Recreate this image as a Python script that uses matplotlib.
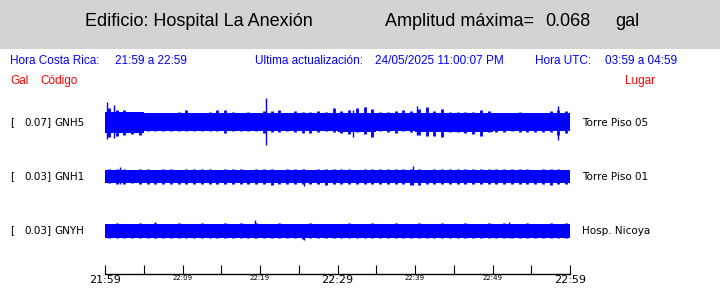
import numpy as np
import matplotlib
matplotlib.use("Agg")
import matplotlib.pyplot as plt
from matplotlib.patches import Rectangle

# header texts
edificio = "Edificio: Hospital La Anexión"
amp_max = "0.068"
hora_cr = "21:59 a 22:59"
actualizacion = "24/05/2025 11:00:07 PM"
hora_utc = "03:59 a 04:59"

# stations (top to bottom)
codigos = ["GNH5", "GNH1", "GNYH"]
escalas = ["0.07", "0.03", "0.03"]
lugares = ["Torre Piso 05", "Torre Piso 01", "Hosp. Nicoya"]

# time axis, minutes after 21:59
tick_min = np.arange(0, 61, 5)
label_min = [0, 10, 20, 30, 40, 50, 60]
label_txt = ["21:59", "22:09", "22:19", "22:29", "22:39", "22:49", "22:59"]
label_big = [True, False, False, True, False, False, True]

# dense part of each trace, half-height per 5-minute block
gnh5_core = [10.5, 9, 9, 9, 9, 9, 9.5, 9, 9.5, 9.5, 9, 9]
gnh1_core = [6.5, 6.5, 6.5, 6.5, 6.5, 6.5, 6.5, 6.5, 6.5, 6.5, 6.5, 6.5]
gnyh_core = [7, 7, 7, 7, 7, 7, 7, 7, 7, 7, 7, 7]

# per-minute peaks of each trace (max above / min below the trace line)
gnh5_hi = [14, 12, 12.5, 10, 10, 8, 8, 9, 8, 10.5, 12.5, 9.5, 9, 10.5, 12, 12.5, 10, 9.5, 10.5, 9.5,
           11, 11, 12, 8, 11, 10.5, 10, 11.5, 10, 14, 11, 12.5, 14, 15.5, 13, 10, 10, 11.5, 12.5, 11,
           13, 15.5, 11.5, 13, 10, 10, 10, 10, 12.5, 11.5, 8, 9, 9, 10, 9.5, 9.5, 9.5, 11, 12, 11.5]
gnh5_lo = [-15, -14, -13, -11.5, -13, -9, -9, -9, -9, -9, -9, -9, -9, -9, -9, -11, -9, -9, -9, -9,
           -11, -10, -10, -9, -10, -11, -11, -10, -9, -10, -10.5, -12, -10, -11.5, -15, -9, -10, -11, -9, -10,
           -12.5, -14, -14, -15, -10, -10, -11, -11.5, -14, -10, -10, -9.5, -9, -10, -10, -10, -9.5, -10, -13, -11]
gnh1_hi = [7, 7.5, 7, 6.5, 7, 7, 6.5, 7.5, 7, 6.5, 7, 7, 7.5, 7, 6.5, 7, 7, 7.5, 6.5, 7,
           7, 7, 6.5, 7, 7.5, 7, 6.5, 7, 7.5, 7, 7, 7, 6.5, 7, 7.5, 7, 7, 7, 7.5, 7,
           7, 6.5, 7, 7, 7, 7.5, 7, 7, 7.5, 7, 7, 7.5, 7, 7, 7, 6.5, 7, 7.5, 7, 6.5]
gnh1_lo = [-6.5, -7, -7, -6.5, -7, -7, -7, -7.5, -7, -7, -7, -7.5, -7, -7, -7, -7.5, -7, -7, -7, -7.5,
           -7, -8, -7, -7, -7.5, -7, -7, -7.5, -8, -7, -7, -7, -7.5, -7, -7, -7.5, -7, -7, -7, -8,
           -8, -7, -7, -7, -7.5, -7, -7, -7, -7.5, -7, -7, -7, -7, -7.5, -7, -7, -7, -8, -7, -7.5]
gnyh_hi = [7, 7.5, 7, 7, 7.5, 7, 7.5, 7, 7, 7.5, 7, 7, 7.5, 7, 7, 7.5, 7, 7.5, 7, 7.5,
           7, 7, 7.5, 7, 7, 7, 7.5, 7, 7, 7, 7, 7.5, 7, 7, 7.5, 7, 7, 7.5, 7, 7,
           7.5, 7, 7, 7.5, 7, 7, 7.5, 7, 7, 7.5, 7, 7.5, 7, 7, 7.5, 7, 7, 7.5, 7, 7.5]
gnyh_lo = [-7, -7.5, -7, -7, -7.5, -7, -7, -7.5, -7, -7, -7.5, -7, -7, -7, -7.5, -7, -7, -7.5, -7, -7,
           -7, -7, -7.5, -7, -7, -8, -7, -7, -7.5, -7, -7, -7, -7.5, -7, -7, -7.5, -7, -7, -7, -7.5,
           -7, -7, -7.5, -7, -7, -7, -7.5, -7, -7, -7, -7.5, -7, -7, -7.5, -7, -7, -7.5, -7, -7, -7.5]

# isolated spikes: time (min), top, bottom
gnh5_pk_t = [0.3, 1.2, 20.8, 32.0, 33.6, 40.3, 58.4]
gnh5_pk_hi = [20, 17, 24, 12, 15.5, 16.5, 16.5]
gnh5_pk_lo = [-17, -16, -23, -15, -11, -13, -18]
gnh1_pk_t = [1.9, 25.7, 39.8]
gnh1_pk_hi = [9.5, 7, 10]
gnh1_pk_lo = [-7, -9.5, -8]
gnyh_pk_t = [6.5, 19.4, 25.7, 52.1]
gnyh_pk_hi = [9, 10.5, 7, 9]
gnyh_pk_lo = [-7, -7, -9.5, -7]

cores = [gnh5_core, gnh1_core, gnyh_core]
peaks = [(gnh5_hi, gnh5_lo), (gnh1_hi, gnh1_lo), (gnyh_hi, gnyh_lo)]
spikes = [(gnh5_pk_t, gnh5_pk_hi, gnh5_pk_lo), (gnh1_pk_t, gnh1_pk_hi, gnh1_pk_lo),
          (gnyh_pk_t, gnyh_pk_hi, gnyh_pk_lo)]

W, H = 720, 288
fig = plt.figure(figsize=(7.2, 2.88), dpi=100)
sans = "Liberation Sans"


def px(x, y):
    return x / W, 1 - y / H


# grey header band
fig.patches.append(Rectangle((0, 1 - 49 / H), 1, 49 / H, transform=fig.transFigure,
                             facecolor="#d3d3d3", edgecolor="none", zorder=0))
fig.text(*px(85, 22), edificio, fontsize=13, family=sans, va="center")
fig.text(*px(385, 22), "Amplitud máxima=", fontsize=13, family=sans, va="center")
fig.text(*px(545, 22), amp_max, fontsize=13, family=sans, va="center")
fig.text(*px(615, 22), "gal", fontsize=13, family=sans, va="center")

blue_items = [(10, "Hora Costa Rica:"), (115, hora_cr), (255, "Ultima actualización:"),
              (375, actualizacion), (535, "Hora UTC:"), (605, hora_utc)]
for x, t in blue_items:
    fig.text(*px(x, 61), t, fontsize=8.5, family=sans, color="blue", va="center")

fig.text(*px(10, 81), "Gal", fontsize=8.5, family=sans, color="red", va="center")
fig.text(*px(40, 81), "Código", fontsize=8.5, family=sans, color="red", va="center")
fig.text(*px(625, 81), "Lugar", fontsize=8.5, family=sans, color="red", va="center")

# trace area: x in minutes, y in pixels above the time axis
ax = fig.add_axes([105 / W, (H - 274) / H, 465 / W, 179 / H])
ax.set_xlim(0, 60)
ax.set_ylim(0, 179)
centros = [151.5, 97.5, 43.5]
core_edges = np.arange(0, 61, 5)
mins = np.arange(60) + 0.5

for c, core, (hi, lo), (pt, ph, pl), esc, cod, lug in zip(centros, cores, peaks, spikes,
                                                         escalas, codigos, lugares):
    core = np.array(core)
    ax.stairs(c + core, core_edges, baseline=c - core, fill=True, color="blue", linewidth=0)
    ax.vlines(mins, c + np.array(lo), c + np.array(hi), color="blue", linewidth=2)
    ax.vlines(pt, c + np.array(pl), c + np.array(ph), color="blue", linewidth=1.0)
    yy = 274 - c
    fig.text(*px(10, yy), "[", fontsize=7.5, va="center")
    fig.text(*px(52, yy), esc + "]", fontsize=7.5, va="center", ha="right")
    fig.text(*px(54, yy), cod, fontsize=7.5, va="center")
    fig.text(*px(582, yy), lug, fontsize=7.5, va="center")

for s in ["top", "left", "right"]:
    ax.spines[s].set_visible(False)
ax.spines["bottom"].set_linewidth(1)
ax.set_yticks([])
ax.set_xticks(tick_min)
ax.set_xticklabels([label_txt[label_min.index(m)] if m in label_min else "" for m in tick_min])
ax.tick_params(axis="x", direction="in", length=6.5, width=0.8, pad=1)
for lab, m in zip(ax.get_xticklabels(), tick_min):
    if m in label_min:
        lab.set_fontsize(8 if label_big[label_min.index(m)] else 5)
ax.patch.set_visible(False)

fig.savefig("out.png", dpi=100)
